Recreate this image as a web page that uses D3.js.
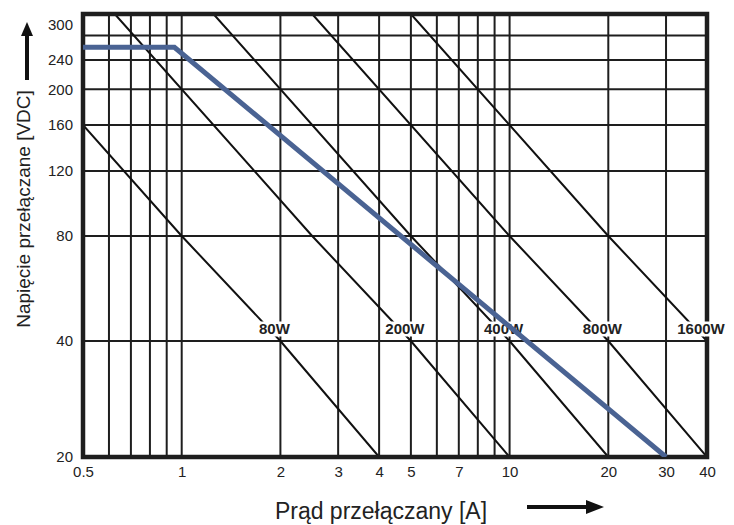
<!DOCTYPE html>
<html>
<head>
<meta charset="utf-8">
<script src="https://cdn.jsdelivr.net/npm/d3@7"></script>
<style>
  body { margin: 0; background: #fff; }
  #chart { width: 734px; height: 525px; }
</style>
</head>
<body>
<div id="chart"></div>
<script>
// osie
const currentTicks = [0.5, 1, 2, 3, 4, 5, 7, 10, 20, 30, 40]
const currentGrid = [0.6, 0.7, 0.8, 0.9, 1, 2, 3, 4, 5, 6, 7, 8, 9, 10, 20, 30]
const voltageTicks = [20, 40, 80, 120, 160, 200, 240, 300]
const voltageGrid = [40, 80, 120, 160, 200, 240, 280]

// linie mocy (W)
const powerLines = [80, 200, 400, 800, 1600]

// krzywa graniczna
const limitCurrent = [0.5, 0.95, 30]
const limitVoltage = [260, 260, 20]

const CONFIG = {
  width: 734,
  height: 525,
  plot: { left: 83, right: 707, top: 14, bottom: 457 },
  font: 'Arial, "Liberation Sans", sans-serif',
  colors: {
    grid: '#1e1e1e',
    frame: '#1e1e1e',
    text: '#222',
    limit: '#4a6393'
  }
}

const svg = d3.select('#chart')
  .append('svg')
  .attr('width', CONFIG.width)
  .attr('height', CONFIG.height)

const p = CONFIG.plot

const x = d3.scaleLog()
  .domain([0.5, 40])
  .range([p.left, p.right])

// skala pionowa jest rysowana odcinkami, jak w oryginale
const y = d3.scaleLog()
  .domain([20, 40, 80, 320])
  .range([p.bottom, 341, 236, p.top])

svg.append('defs')
  .append('clipPath')
  .attr('id', 'plot-clip')
  .append('rect')
  .attr('x', p.left)
  .attr('y', p.top)
  .attr('width', p.right - p.left)
  .attr('height', p.bottom - p.top)

const plot = svg.append('g').attr('clip-path', 'url(#plot-clip)')

// siatka
plot.append('g')
  .selectAll('line')
  .data(currentGrid)
  .enter()
  .append('line')
  .attr('x1', (d) => x(d))
  .attr('x2', (d) => x(d))
  .attr('y1', p.top)
  .attr('y2', p.bottom)
  .attr('stroke', CONFIG.colors.grid)
  .attr('stroke-width', 2)

plot.append('g')
  .selectAll('line')
  .data(voltageGrid)
  .enter()
  .append('line')
  .attr('x1', p.left)
  .attr('x2', p.right)
  .attr('y1', (d) => y(d))
  .attr('y2', (d) => y(d))
  .attr('stroke', CONFIG.colors.grid)
  .attr('stroke-width', 2)

// linie stałej mocy P = U * I
const yBreaks = y.domain()
const powerPath = d3.line()
  .x((d) => x(d.i))
  .y((d) => y(d.v))

plot.append('g')
  .selectAll('path')
  .data(powerLines)
  .enter()
  .append('path')
  .attr('d', (P) => powerPath(yBreaks.map((v) => ({ i: P / v, v }))))
  .attr('fill', 'none')
  .attr('stroke', '#111')
  .attr('stroke-width', 2)

// ramka
svg.append('rect')
  .attr('x', p.left)
  .attr('y', p.top)
  .attr('width', p.right - p.left)
  .attr('height', p.bottom - p.top)
  .attr('fill', 'none')
  .attr('stroke', CONFIG.colors.frame)
  .attr('stroke-width', 4.5)

// etykiety mocy (przykrywają ramkę jak w oryginale)
const labels = svg.append('g')
  .selectAll('g')
  .data(powerLines)
  .enter()
  .append('g')
  .attr('transform', (P) => `translate(${x(P / 40) - 6},${y(40) - 12})`)

labels.append('text')
  .attr('text-anchor', 'middle')
  .attr('dy', '0.36em')
  .style('font-family', CONFIG.font)
  .style('font-size', '15px')
  .style('font-weight', 'bold')
  .style('fill', CONFIG.colors.text)
  .text((P) => `${P}W`)

labels.each(function () {
  const g = d3.select(this)
  const box = g.select('text').node().getBBox()
  g.insert('rect', 'text')
    .attr('x', box.x - 1)
    .attr('y', -7.5)
    .attr('width', box.width + 2)
    .attr('height', 15)
    .attr('fill', '#fff')
})

// krzywa graniczna (nad etykietami)
const limitData = limitCurrent.map((i, k) => ({ i, v: limitVoltage[k] }))
svg.append('g')
  .attr('clip-path', 'url(#plot-clip)')
  .append('path')
  .datum(limitData)
  .attr('d', powerPath)
  .attr('fill', 'none')
  .attr('stroke', CONFIG.colors.limit)
  .attr('stroke-width', 5)
  .attr('stroke-linejoin', 'miter')

// osie
svg.append('g')
  .attr('transform', `translate(0,${p.bottom + 3})`)
  .call(d3.axisBottom(x).tickValues(currentTicks).tickFormat(d3.format('')).tickSize(0).tickPadding(6))
  .call((g) => {
    g.select('.domain').remove()
    g.selectAll('.tick text')
      .style('font-family', CONFIG.font)
      .style('font-size', '15px')
      .style('fill', CONFIG.colors.text)
  })

svg.append('g')
  .attr('transform', `translate(${p.left - 10},0)`)
  .call(d3.axisLeft(y).tickValues(voltageTicks).tickFormat(d3.format('')).tickSize(0).tickPadding(0))
  .call((g) => {
    g.select('.domain').remove()
    g.selectAll('.tick text')
      .style('font-family', CONFIG.font)
      .style('font-size', '15px')
      .style('fill', CONFIG.colors.text)
  })

// tytuły osi
svg.append('text')
  .attr('x', 381)
  .attr('y', 519)
  .attr('text-anchor', 'middle')
  .style('font-family', CONFIG.font)
  .style('font-size', '23px')
  .style('fill', CONFIG.colors.text)
  .text('Prąd przełączany [A]')

svg.append('text')
  .attr('transform', 'translate(30,209) rotate(-90)')
  .attr('text-anchor', 'middle')
  .style('font-family', CONFIG.font)
  .style('font-size', '19px')
  .style('fill', CONFIG.colors.text)
  .text('Napięcie przełączane [VDC]')

// strzałki
const arrows = svg.append('g').attr('fill', '#111').attr('stroke', '#111')

arrows.append('line')
  .attr('x1', 527).attr('x2', 590)
  .attr('y1', 507).attr('y2', 507)
  .attr('stroke-width', 4)
arrows.append('path')
  .attr('d', 'M604,507 L586,500 L586,514 Z')
  .attr('stroke', 'none')

arrows.append('line')
  .attr('x1', 27).attr('x2', 27)
  .attr('y1', 80).attr('y2', 32)
  .attr('stroke-width', 4)
arrows.append('path')
  .attr('d', 'M27,22 L21,36 L33,36 Z')
  .attr('stroke', 'none')
</script>
</body>
</html>
